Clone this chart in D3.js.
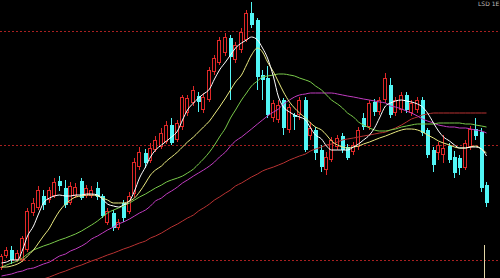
<!DOCTYPE html>
<html><head><meta charset="utf-8">
<script src="https://cdn.jsdelivr.net/npm/d3@7"></script>
<style>html,body{margin:0;padding:0;background:#000;overflow:hidden}</style>
</head><body><svg id="c" width="500" height="278"></svg>
<script>
// ---- data (price units) ----
const openP  = [13.2,14.4,15.0,14.0,14.0,15.0,18.7,19.2,20.4,20.0,20.4,21.9,21.2,19.7,20.4,21.9,20.4,20.4,21.2,20.4,17.7,18.7,17.2,19.7,18.8,20.6,23.3,24.7,23.9,25.0,25.3,25.8,27.5,26.0,27.3,28.7,29.7,30.4,29.0,30.0,32.8,33.7,34.7,36.2,34.0,35.0,36.0,38.7,38.0,32.5,32.2,28.2,28.0,30.0,27.0,28.5,28.5,30.0,26.4,27.0,25.0,23.0,24.0,25.3,26.4,25.3,24.8,25.3,28.2,27.3,29.8,28.8,30.0,31.5,28.7,29.0,30.5,28.7,29.0,30.0,27.0,25.0,24.7,24.5,25.4,24.3,24.2,23.2,25.3,27.1,26.8,21.5];
const highP  = [14.6,15.3,15.4,15.0,16.4,19.2,20.2,21.4,21.0,21.3,22.2,22.4,22.0,21.8,21.7,22.2,21.5,21.4,21.8,20.6,19.2,19.0,18.1,20.0,20.8,24.2,25.3,25.1,25.7,26.4,27.2,27.9,28.2,28.0,30.5,30.5,31.4,30.8,30.7,33.3,34.5,36.3,36.7,36.5,35.8,37.2,39.0,39.8,38.2,33.0,33.4,30.0,30.0,30.2,29.6,28.7,30.3,30.3,27.8,27.3,25.5,24.8,26.3,26.5,26.7,25.6,25.8,27.3,28.7,30.0,30.1,30.3,32.7,32.2,30.3,30.8,30.8,30.0,30.3,30.3,27.2,25.3,25.8,26.5,25.7,24.9,24.5,26.0,27.4,28.2,27.2,21.8];
const lowP   = [13.0,14.2,13.6,13.8,13.8,14.8,18.4,19.0,19.0,19.7,20.2,20.9,19.2,19.5,20.2,20.0,20.2,20.2,20.0,18.2,17.5,16.9,17.0,17.8,18.6,20.3,23.0,23.2,23.7,24.8,25.1,25.6,25.5,25.8,27.0,28.4,29.4,28.8,28.7,29.8,32.5,33.5,34.4,30.0,33.7,34.7,35.8,37.2,31.0,30.0,28.2,27.8,27.7,26.5,26.7,27.0,28.0,24.8,26.0,24.0,22.8,22.5,23.8,25.0,24.7,24.0,24.5,25.0,27.0,27.0,28.4,28.5,29.7,28.2,28.4,28.7,28.7,28.4,28.7,26.4,24.2,22.8,24.0,23.7,23.7,22.2,22.5,23.0,25.0,26.0,20.8,19.3];
const closeP = [14.4,15.0,14.0,14.7,16.2,18.9,19.7,21.0,19.5,21.0,21.8,21.4,19.5,21.4,21.3,20.2,21.2,21.0,20.3,18.4,18.9,17.2,17.8,18.2,20.4,23.8,24.8,23.7,25.2,26.0,26.7,27.5,25.7,27.7,30.3,30.2,31.0,29.8,30.3,33.0,34.2,36.0,36.3,34.3,35.5,36.8,38.7,37.5,32.3,32.0,28.5,29.7,29.5,27.2,29.3,28.3,30.0,25.0,27.2,24.7,23.3,24.3,26.0,26.2,25.0,24.2,25.5,27.0,27.3,29.7,28.8,30.0,32.2,28.5,30.0,30.5,29.0,29.7,30.0,26.7,24.5,23.5,25.5,25.2,24.0,22.7,23.2,25.7,27.1,26.4,21.2,19.7];

const ma5  = [13.7,13.8,14.0,14.0,15.0,16.4,17.4,18.6,19.7,20.2,20.4,20.5,20.4,20.4,20.5,20.5,20.6,20.6,20.5,20.1,19.6,19.4,19.3,19.5,19.9,20.9,22.2,23.3,24.3,25.0,25.5,25.9,26.3,26.9,28.0,29.0,29.7,30.2,30.6,31.1,32.1,33.0,33.8,34.5,35.2,35.7,36.0,36.3,36.0,35.2,34.2,32.3,30.3,29.3,28.8,28.5,28.3,28.0,27.2,26.5,26.1,25.4,25.0,25.0,25.0,25.0,25.3,25.6,26.0,26.5,27.2,28.2,29.4,29.7,29.9,30.0,29.9,29.8,29.6,29.3,28.7,27.7,26.9,26.3,25.9,25.5,25.2,25.2,25.3,25.3,25.1,24.4];
const ma10 = [13.3,13.3,13.4,13.6,13.9,14.4,15.0,15.7,16.4,17.2,18.1,18.9,19.6,20.0,20.3,20.4,20.5,20.5,20.4,20.2,20.0,19.7,19.7,19.7,19.9,20.2,20.8,21.7,22.5,23.0,23.4,23.9,24.3,24.8,25.3,25.8,26.3,26.8,27.3,27.9,28.6,29.3,30.2,31.0,31.8,32.5,33.5,34.5,35.2,34.8,33.8,32.8,31.8,30.8,29.8,29.2,28.7,28.2,27.7,27.3,27.0,26.5,25.9,25.5,25.3,25.2,25.3,25.4,25.6,25.8,26.0,26.2,26.4,26.6,26.8,27.0,27.1,27.1,27.0,26.8,26.5,26.2,25.9,25.7,25.5,25.3,25.2,25.2,25.3,25.4,25.1,24.7];
const ma20 = [13.3,13.5,13.7,13.9,14.2,14.6,15.0,15.2,15.4,15.6,15.8,16.0,16.2,16.4,16.6,16.9,17.2,17.5,17.9,18.3,18.7,19.0,19.2,19.4,19.7,20.0,20.3,20.6,20.9,21.2,21.5,21.8,22.0,22.2,22.4,22.7,23.1,23.6,24.1,24.8,25.5,26.3,27.2,28.2,29.0,30.0,30.7,31.4,31.9,32.3,32.4,32.5,32.6,32.6,32.5,32.4,32.2,32.0,31.8,31.4,31.0,30.5,30.0,29.6,29.2,28.7,28.3,27.8,27.5,27.2,27.0,26.9,26.9,27.0,27.1,27.3,27.4,27.5,27.6,27.6,27.6,27.6,27.7,27.7,27.7,27.7,27.7,27.6,27.6,27.5,27.4,27.3];
const ma30 = [12.4,12.5,12.6,12.8,12.9,13.1,13.2,13.4,13.6,13.8,14.1,14.4,14.6,14.9,15.1,15.4,15.7,16.1,16.4,16.7,17.0,17.3,17.6,17.8,18.1,18.4,18.7,19.0,19.4,19.9,20.2,20.6,20.9,21.3,21.7,22.0,22.4,22.7,23.0,23.4,23.8,24.3,24.8,25.4,25.9,26.3,26.7,27.1,27.6,28.0,28.4,28.8,29.1,29.6,30.0,30.3,30.5,30.6,30.7,30.7,30.7,30.7,30.7,30.6,30.5,30.4,30.3,30.2,30.1,30.0,29.9,29.8,29.7,29.4,29.3,29.1,28.9,28.7,28.4,28.1,27.9,27.7,27.5,27.4,27.3,27.3,27.2,27.2,27.1,27.0,26.9,26.7];
const ma60 = [null,null,null,null,null,null,null,null,12.1,12.3,12.5,12.7,12.9,13.1,13.3,13.5,13.7,13.9,14.1,14.3,14.5,14.7,14.9,15.1,15.3,15.5,15.7,15.9,16.2,16.4,16.7,17.0,17.3,17.6,17.9,18.2,18.5,18.9,19.2,19.6,20.0,20.3,20.7,21.0,21.4,21.7,22.0,22.3,22.6,22.9,23.1,23.3,23.5,23.7,24.0,24.2,24.4,24.6,24.9,25.1,25.3,25.5,25.6,25.8,26.0,26.1,26.2,26.3,26.4,26.5,26.6,26.7,26.8,27.0,27.2,27.5,27.8,28.1,28.3,28.5,28.6,28.7,28.7,28.7,28.7,28.7,28.7,28.7,28.7,28.7,28.7,28.7];

const gridLevels = [36.9, 25.5, 14.0];
const lastVolumeTop = 15.5;
const cornerLabel = "LSD 1E";

const days = openP.map((d, i) => "D" + (i + 1));
const candles = days.map((d, i) => ({day: d, o: openP[i], h: highP[i], l: lowP[i], c: closeP[i]}));

// ---- scales ----
const W = 500, H = 278;
const x = d3.scaleBand().domain(days).range([-2, 488.67]).padding(0);
const y = d3.scaleLinear().domain([12.2, 40]).range([H, 0]);
const cx = d => Math.round(x(d) + x.bandwidth() / 2);

const svg = d3.select("#c");
svg.append("rect").attr("width", W).attr("height", H).attr("fill", "#000");
svg.append("defs").append("clipPath").attr("id", "clip")
  .append("rect").attr("width", W).attr("height", H);

// grid
svg.append("g").selectAll("line").data(gridLevels).join("line")
  .attr("x1", 0).attr("x2", W)
  .attr("y1", d => Math.round(y(d)) + 0.5).attr("y2", d => Math.round(y(d)) + 0.5)
  .attr("stroke", "#a82020").attr("stroke-width", 1).attr("stroke-dasharray", "2,2");

const UP = "#e02828", DOWN = "#52f6f6";
const g = svg.append("g").attr("clip-path", "url(#clip)");

// wicks
g.append("g").selectAll("line").data(candles).join("line")
  .attr("x1", d => cx(d.day) + 0.5).attr("x2", d => cx(d.day) + 0.5)
  .attr("y1", d => y(d.h)).attr("y2", d => y(d.l))
  .attr("stroke", d => d.c >= d.o ? UP : DOWN).attr("stroke-width", 1);

// bodies
g.append("g").selectAll("rect").data(candles).join("rect")
  .attr("x", d => d.c >= d.o ? cx(d.day) - 1.5 : cx(d.day) - 1)
  .attr("width", d => d.c >= d.o ? 3 : 4)
  .attr("y", d => d.c >= d.o ? y(Math.max(d.o, d.c)) + 0.5 : y(Math.max(d.o, d.c)))
  .attr("height", d => Math.max(1, Math.abs(y(d.o) - y(d.c)) - (d.c >= d.o ? 1 : 0)))
  .attr("fill", d => d.c >= d.o ? "#000" : DOWN)
  .attr("stroke", d => d.c >= d.o ? UP : "none")
  .attr("stroke-width", 1);

// moving averages
const lines = [
  {v: ma60, color: "#b83232"},
  {v: ma30, color: "#c03cc0"},
  {v: ma20, color: "#79c94a"},
  {v: ma10, color: "#eaea80"},
  {v: ma5,  color: "#ffffff"}
];
const lineGen = d3.line()
  .defined(d => d.v != null)
  .x(d => cx(d.day) + 0.5).y(d => y(d.v))
  .curve(d3.curveMonotoneX);
lines.forEach(L => {
  g.append("path")
    .datum(days.map((d, i) => ({day: d, v: L.v[i]})))
    .attr("d", lineGen).attr("fill", "none")
    .attr("stroke", L.color).attr("stroke-width", 1);
});

// last volume tick
const lastDay = days[days.length - 1];
g.append("line")
  .attr("x1", cx(lastDay) - 1.5).attr("x2", cx(lastDay) - 1.5)
  .attr("y1", y(lastVolumeTop)).attr("y2", H)
  .attr("stroke", "#e2d6a6").attr("stroke-width", 1);

svg.append("text").attr("x", 478).attr("y", 6)
  .attr("font-family", "DejaVu Sans").attr("font-size", 6).attr("fill", "#bbbbbb")
  .text(cornerLabel);
</script>
</body></html>
